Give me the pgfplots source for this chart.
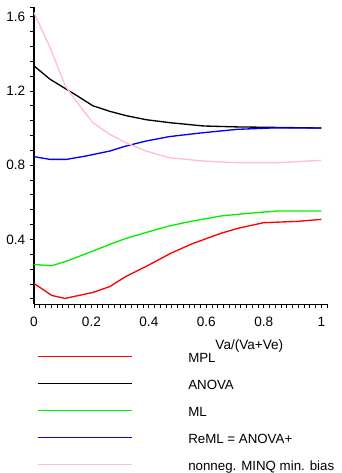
\documentclass[border=0pt]{standalone}
\usepackage{fontspec}
\setmainfont{Liberation Sans}
\usepackage{pgfplots}
\pgfplotsset{compat=1.18}
\definecolor{mpink}{RGB}{255,192,203}
\definecolor{mgreen}{RGB}{0,240,0}
\begin{document}
\fontsize{10.2}{12.2}\selectfont
\begin{tikzpicture}
\useasboundingbox (-25.5pt,-126.75pt) rectangle (231pt,228.75pt);
\begin{axis}[
  at={(0pt,0pt)}, anchor=south west,
  scale only axis, width=220.3pt, height=223.2pt,
  xmin=0, xmax=1.02, ymin=0.05, ymax=1.65,
  axis lines=left, axis line style={-, line width=1pt},
  tick align=outside, major tick length=3pt, minor tick length=3pt,
  every tick/.style={black, line width=0.6pt},
  xtick={0,0.2,0.4,0.6,0.8,1},
  minor xtick={0.02,0.04,0.06,0.08,0.1,0.12,0.14,0.16,0.18,0.22,0.24,0.26,0.28,0.3,0.32,0.34,0.36,0.38,0.42,0.44,0.46,0.48,0.5,0.52,0.54,0.56,0.58,0.62,0.64,0.66,0.68,0.7,0.72,0.74,0.76,0.78,0.82,0.84,0.86,0.88,0.9,0.92,0.94,0.96,0.98,1.02},
  ytick={0.4,0.8,1.2,1.6},
  minor ytick={0.08,0.16,0.24,0.32,0.48,0.56,0.64,0.72,0.88,0.96,1.04,1.12,1.28,1.36,1.44,1.52,1.65},
  /pgf/number format/assume math mode=true,
  ticklabel style={font=\fontsize{10.2}{12}\selectfont},
  xticklabel style={yshift=-3pt},
  xlabel={Va/(Va+Ve)},
  xlabel style={at={(axis description cs:0.735,0)}, anchor=center, yshift=-31pt, font=\fontsize{10.2}{12}\selectfont},
  legend style={draw=none, fill=none, at={(axis description cs:0,0)}, anchor=north west,
    xshift=-0.8pt, yshift=-33.8pt, legend cell align=left, row sep=10.25pt,
    nodes={inner sep=0pt, text height=8pt, text depth=2pt, font=\fontsize{10}{12}\selectfont},
    /tikz/every odd column/.append style={column sep=42pt}},
  legend image code/.code={\draw[#1,line width=1.1pt] (0pt,1.75pt) -- (70.5pt,1.75pt);},
  every axis plot/.append style={line width=1pt},
]
\addplot[color=red] coordinates {(0,0.163) (0.062,0.098) (0.108,0.082) (0.205,0.114) (0.264,0.146) (0.32,0.2) (0.39,0.254) (0.476,0.325) (0.545,0.373) (0.649,0.432) (0.708,0.459) (0.799,0.49) (0.916,0.497) (1,0.508)};
\addlegendentry{MPL}
\addplot[color=black] coordinates {(0,1.335) (0.056,1.263) (0.113,1.209) (0.148,1.176) (0.205,1.12) (0.264,1.09) (0.32,1.067) (0.39,1.045) (0.472,1.029) (0.59,1.011) (0.708,1.006) (1,1.0)};
\addlegendentry{ANOVA}
\addplot[color=mgreen] coordinates {(0,0.265) (0.062,0.258) (0.114,0.283) (0.205,0.337) (0.264,0.373) (0.32,0.405) (0.39,0.437) (0.47,0.472) (0.545,0.497) (0.65,0.526) (0.743,0.54) (0.847,0.553) (1,0.553)};
\addlegendentry{ML}
\addplot[color=blue] coordinates {(0,0.846) (0.056,0.831) (0.113,0.831) (0.18,0.849) (0.264,0.876) (0.32,0.903) (0.39,0.93) (0.472,0.954) (0.59,0.975) (0.708,0.993) (0.823,1.0) (1,1.0)};
\addlegendentry{ReML = ANOVA+}
\addplot[color=mpink] coordinates {(0,1.623) (0.056,1.434) (0.108,1.23) (0.142,1.155) (0.205,1.029) (0.264,0.966) (0.32,0.921) (0.39,0.876) (0.472,0.84) (0.59,0.822) (0.708,0.813) (0.847,0.813) (1,0.826)};
\addlegendentry{nonneg. MINQ min. bias}
\end{axis}
\end{tikzpicture}
\end{document}
